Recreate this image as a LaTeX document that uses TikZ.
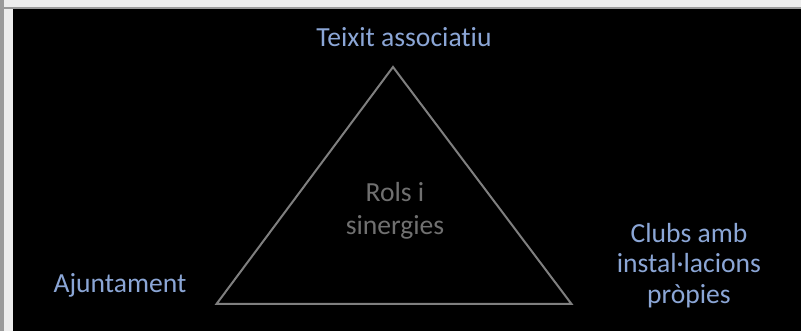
\documentclass[tikz,border=0pt]{standalone}
\usepackage{fontspec}
\setmainfont{Carlito}[RawFeature={-liga;-clig;-dlig}]
\definecolor{lblue}{HTML}{8BA6D6}
\definecolor{mgray}{HTML}{707070}
\definecolor{tgray}{HTML}{7F7F7F}
\definecolor{stripw}{HTML}{EDEDED}
\definecolor{stripg}{HTML}{9A9A9A}
\tikzset{
  lbl/.style={text=lblue, font=\fontsize{27.6}{30.5}\selectfont, align=center, inner sep=0pt, anchor=base},
  mid/.style={text=mgray, font=\fontsize{27.6}{33}\selectfont, align=center, inner sep=0pt, anchor=base},
  tri/.style={draw=tgray, line width=2pt, line join=miter}
}
\begin{document}
\begin{tikzpicture}[x=1pt,y=-1pt]
\useasboundingbox (0,0) rectangle (801,331);
\fill[stripw] (0,0) rectangle (801,331);
\fill[stripg] (0,0) rectangle (3.5,331);
\fill[stripg] (3.5,7.5) rectangle (801,9.5);
\fill[black] (13,9) rectangle (801,331);
\coordinate (A) at (393,67);
\coordinate (B) at (216.5,304);
\coordinate (C) at (571.5,304);
\draw[tri] (A) -- (B) -- (C) -- cycle;
\node[lbl] (teixit) at (404,47) {Teixit associatiu};
\node[lbl] (ajunt) at (120,293) {Ajuntament};
\node[lbl] (clubs) at (689,303) {Clubs amb\\instal·lacions\\pròpies};
\node[mid] (rols) at (395,235) {Rols i\\sinergies};
\end{tikzpicture}
\end{document}
